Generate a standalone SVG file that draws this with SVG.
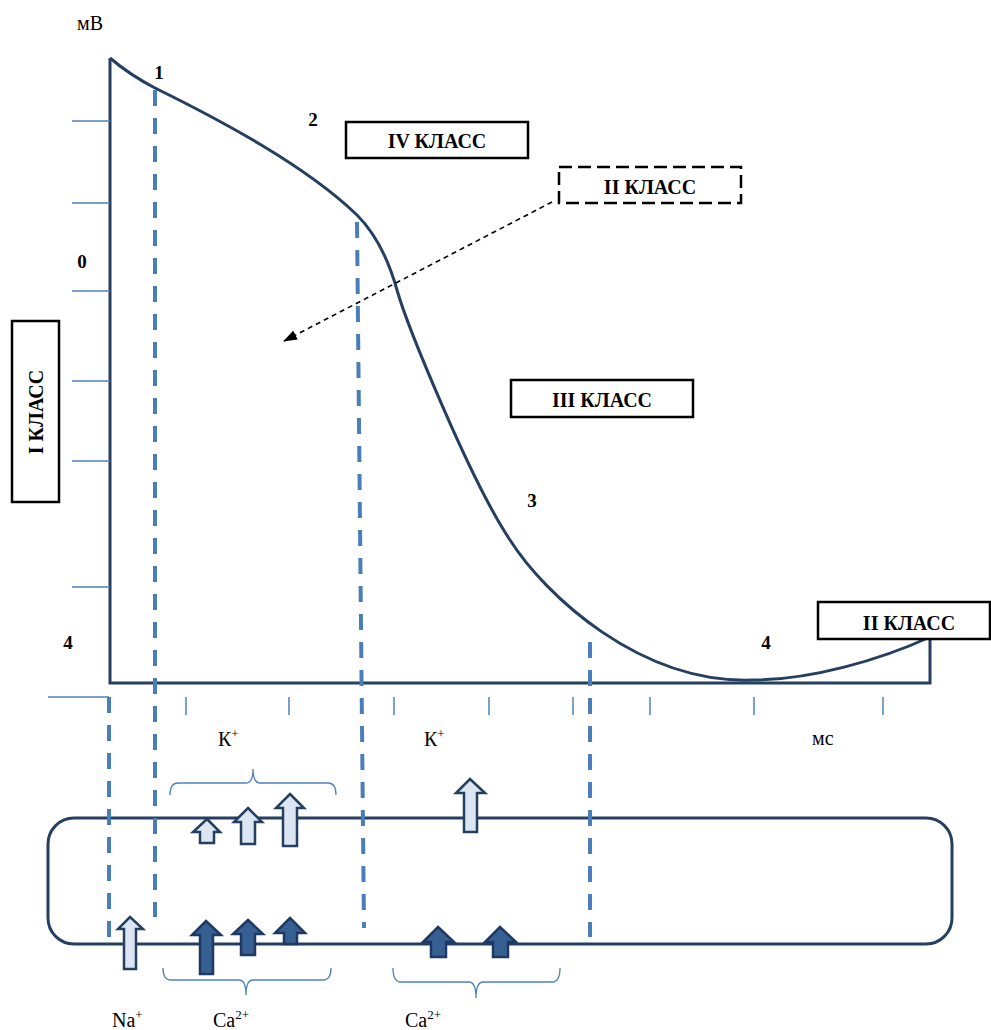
<svg xmlns="http://www.w3.org/2000/svg" width="991" height="1030" viewBox="0 0 991 1030">
<style>
.t{font-family:"Liberation Serif","Times New Roman",serif;fill:#000}
.b{font-weight:bold}
.ax{stroke:#243F60;stroke-width:3;fill:none}
.tk{stroke:#4F81BD;stroke-width:1.5;fill:none}
.dl{stroke:#4A7EBB;stroke-width:4;stroke-dasharray:16 12;fill:none}
.bx{fill:#fff;stroke:#000;stroke-width:2.5}
.br{stroke:#4F81BD;stroke-width:1.3;fill:none}
.la{fill:#DCE6F2;stroke:#243F60;stroke-width:2.5;stroke-linejoin:miter}
.da{fill:#376092;stroke:#1F3864;stroke-width:2.5;stroke-linejoin:miter}
</style>
<defs>
<marker id="ah" markerWidth="14" markerHeight="10" refX="13" refY="5" orient="auto" markerUnits="userSpaceOnUse">
<path d="M0,0 L14,5 L0,10 Z" fill="#000"/>
</marker>
</defs>
<g id="axes">
<path class="ax" d="M110,58 L110,683 L930,683 L930,637"/>
<g class="tk">
<path d="M72,121H110M72,203H110M72,291H110M72,381H110M72,461H110M72,587H110"/>
<path d="M48,697H109"/>
<path d="M186,697V715M289,697V715M394,697V715M489,697V715M573,697V715M650,697V715M754,697V715M883,697V715"/>
</g>
</g>
<g id="curve">
<path class="ax" d="M110,58 Q130,75 155,88 C220,120 305,165 357,215 C377,235 390,265 397,290 C407,325 470,480 510,540 C545,595 640,684 753,680 C810,680 880,660 930,637"/>
</g>
<g id="cell">
<rect x="48" y="818" width="904" height="126" rx="26" ry="26" fill="none" stroke="#243F60" stroke-width="3"/>
</g>
<g id="connectors">
<path class="dl" d="M109,697V943"/>
<path class="dl" d="M155,90V917"/>
<path class="dl" d="M357,222L364,928"/>
<path class="dl" d="M590,642V937"/>
<path d="M552,202L284,341" stroke="#000" stroke-width="1.6" stroke-dasharray="5 4" fill="none" marker-end="url(#ah)"/>
</g>
<g id="labels">
<text class="t" x="77" y="30" font-size="20">мВ</text>
<text class="t b" x="159" y="79" font-size="19" text-anchor="middle">1</text>
<text class="t b" x="313" y="126" font-size="19" text-anchor="middle">2</text>
<text class="t b" x="82" y="268" font-size="19" text-anchor="middle">0</text>
<text class="t b" x="532" y="507" font-size="19" text-anchor="middle">3</text>
<text class="t b" x="68" y="649" font-size="19" text-anchor="middle">4</text>
<text class="t b" x="766" y="649" font-size="19" text-anchor="middle">4</text>
<text class="t" x="218" y="746" font-size="20">К<tspan font-size="13" dy="-8">+</tspan></text>
<text class="t" x="424" y="746" font-size="20">К<tspan font-size="13" dy="-8">+</tspan></text>
<text class="t" x="812" y="745" font-size="20">мс</text>
<text class="t" x="112" y="1027" font-size="20">Na<tspan font-size="13" dy="-8">+</tspan></text>
<text class="t" x="213" y="1027" font-size="20">Ca<tspan font-size="13" dy="-8">2+</tspan></text>
<text class="t" x="405" y="1027" font-size="20">Ca<tspan font-size="13" dy="-8">2+</tspan></text>
</g>
<g id="class4">
<rect class="bx" x="346" y="122" width="182" height="36"/>
<text class="t b" x="437" y="148" font-size="20" text-anchor="middle">IV КЛАСС</text>
</g>
<g id="class2a">
<rect x="559" y="167" width="182" height="36" fill="#fff" stroke="#000" stroke-width="2.5" stroke-dasharray="13 6"/>
<text class="t b" x="650" y="194" font-size="20" text-anchor="middle">II КЛАСС</text>
</g>
<g id="class3">
<rect class="bx" x="511" y="380" width="182" height="37"/>
<text class="t b" x="602" y="407" font-size="20" text-anchor="middle">III КЛАСС</text>
</g>
<g id="class2b">
<rect class="bx" x="818" y="602" width="172" height="37"/>
<text class="t b" x="909" y="630" font-size="20" text-anchor="middle">II КЛАСС</text>
</g>
<g id="class1">
<rect class="bx" x="12" y="321" width="47" height="181"/>
<text class="t b" x="43" y="412" font-size="20" text-anchor="middle" transform="rotate(-90 43 412)">I КЛАСС</text>
</g>
<g id="braces">
<path class="br" d="M170,795 Q170,783 178,783 L246,783 Q253,783 253,769 Q253,783 260,783 L328,783 Q336,783 336,795"/>
<path class="br" d="M163,968 Q163,980 171,980 L239,980 Q246,980 246,995 Q246,980 253,980 L323,980 Q331,980 331,968"/>
<path class="br" d="M393,968 Q393,982 401,982 L469,982 Q476,982 476,998 Q476,982 483,982 L552,982 Q560,982 560,968"/>
</g>
<g id="k-arrows">
<path class="la" d="M207,819 L220,832 L214,832 L214,843 L200,843 L200,832 L193,832 Z"/>
<path class="la" d="M248,808 L262,822 L255,822 L255,844 L241,844 L241,822 L234,822 Z"/>
<path class="la" d="M290,794 L304,808 L297,808 L297,846 L283,846 L283,808 L276,808 Z"/>
<path class="la" d="M470,779 L485,793 L477,793 L477,832 L464,832 L464,793 L456,793 Z"/>
</g>
<g id="na-arrow">
<path class="la" d="M130,917 L143,929 L136,929 L136,969 L124,969 L124,929 L118,929 Z"/>
</g>
<g id="ca-arrows">
<path class="da" d="M206,921 L221,935 L213,935 L213,974 L200,974 L200,935 L192,935 Z"/>
<path class="da" d="M248,920 L263,934 L255,934 L255,955 L241,955 L241,934 L233,934 Z"/>
<path class="da" d="M290,918 L305,933 L297,933 L297,944 L284,944 L284,933 L275,933 Z"/>
<path class="da" d="M438,927 L454,942 L446,942 L446,957 L431,957 L431,942 L423,942 Z"/>
<path class="da" d="M500,927 L516,942 L508,942 L508,957 L493,957 L493,942 L485,942 Z"/>
</g>
</svg>
